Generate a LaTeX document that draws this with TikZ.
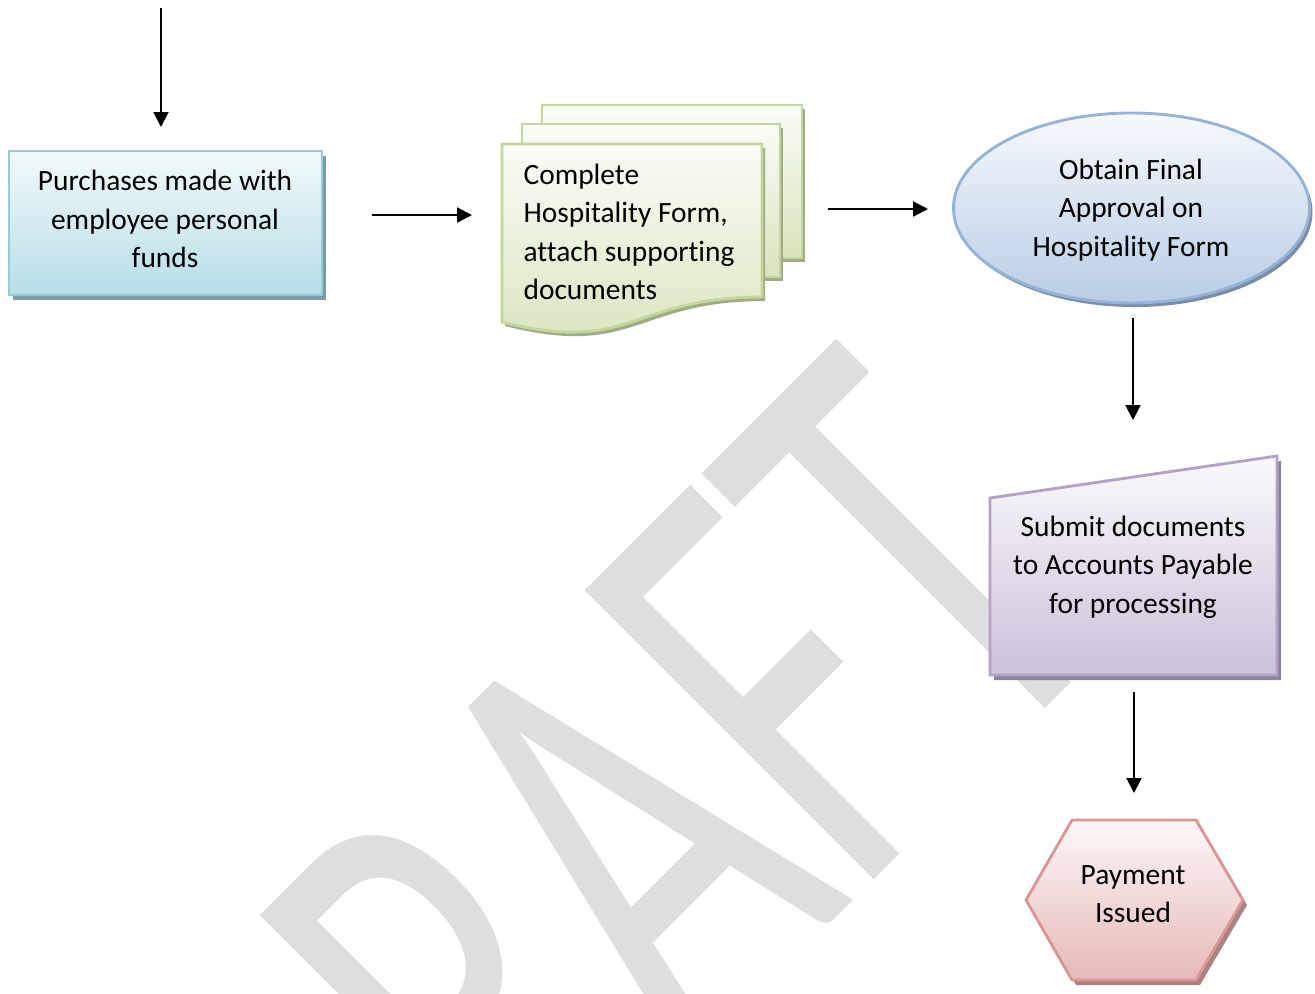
\documentclass[tikz,border=0pt]{standalone}
\usepackage{fontspec}
\setmainfont{Carlito}[Ligatures=NoCommon]
\usetikzlibrary{arrows.meta}
\definecolor{wm}{RGB}{222,222,222}
\definecolor{bBorder}{RGB}{147,205,221}
\definecolor{bTop}{RGB}{242,249,251}
\definecolor{bBot}{RGB}{183,222,232}
\definecolor{bShadow}{RGB}{125,155,165}
\definecolor{gBorder}{RGB}{195,214,155}
\definecolor{gTop}{RGB}{251,252,247}
\definecolor{gBot}{RGB}{215,228,189}
\definecolor{gShadow}{RGB}{160,172,135}
\definecolor{eBorder}{RGB}{149,179,215}
\definecolor{eTop}{RGB}{246,249,253}
\definecolor{eBot}{RGB}{185,205,229}
\definecolor{eShadow}{RGB}{125,140,165}
\definecolor{pBorder}{RGB}{179,162,199}
\definecolor{pTop}{RGB}{250,249,252}
\definecolor{pBot}{RGB}{204,193,218}
\definecolor{pShadow}{RGB}{140,132,155}
\definecolor{rBorder}{RGB}{217,150,148}
\definecolor{rTop}{RGB}{253,247,247}
\definecolor{rBot}{RGB}{230,185,184}
\definecolor{rShadow}{RGB}{170,130,130}
\tikzset{
  arr/.style={line width=0.75pt,-{Triangle[length=5.2pt,width=5.2pt]}},
  lbl/.style={font=\fontsize{10.3}{13.5}\selectfont, align=center, inner sep=0pt, text=black},
  shp/.style={line width=1pt},
}
\begin{document}
\begin{tikzpicture}[x=0.35pt,y=-0.35pt]
\useasboundingbox (0,0) rectangle (1315,993);
\clip (0,0) rectangle (1315,993);
\fill[white] (0,0) rectangle (1315,993);
% watermark
\node[anchor=base east, rotate=45, yscale=1.55, inner sep=0pt, text=wm,
      font=\fontsize{143.9}{150}\selectfont] (wmark) at (1130,624) {DRAFT};
% box 1
\fill[bShadow] (13,156) rectangle (326,300);
\shadedraw[shp, draw=bBorder, top color=bTop, bottom color=bBot] (9,151) rectangle (322,295);
\node[lbl] (purch) at (165,219) {Purchases made with\\employee personal\\funds};
% multidocument
\fill[gShadow] (545,109) rectangle (805,262);
\shadedraw[shp, draw=gBorder, top color=gTop, bottom color=gBot] (542,105) rectangle (802,258);
\fill[gShadow] (525,128) rectangle (783,281);
\shadedraw[shp, draw=gBorder, top color=gTop, bottom color=gBot] (522,124) rectangle (780,277);
\fill[gShadow] (505,148) -- (765,148) -- (765,301) .. controls (635,301) and (635,359) .. (505,326) -- cycle;
\shadedraw[shp, draw=gBorder, top color=gTop, bottom color=gBot] (502,144) -- (762,144) -- (762,297) .. controls (632,297) and (632,355) .. (502,322) -- cycle;
\node[lbl, align=left, anchor=west] (complete) at (523,232) {Complete\\Hospitality Form,\\attach supporting\\documents};
% ellipse
\fill[eShadow] (1134.5,212) ellipse [x radius=178, y radius=95];
\shadedraw[shp, draw=eBorder, top color=eTop, bottom color=eBot] (1131.5,208) ellipse [x radius=178, y radius=95];
\node[lbl] (approve) at (1131,210) {Obtain Final\\Approval on\\Hospitality Form};
% manual input
\fill[pShadow] (994,503) -- (1281,461) -- (1281,680) -- (994,680) -- cycle;
\shadedraw[shp, draw=pBorder, top color=pTop, bottom color=pBot] (990,498) -- (1277,456) -- (1277,675) -- (990,675) -- cycle;
\node[lbl] (submit) at (1133,567) {Submit documents\\to Accounts Payable\\for processing};
% hexagon
\fill[rShadow] (1076,825) -- (1200,825) -- (1247,905) -- (1200,985) -- (1076,985) -- (1030,905) -- cycle;
\shadedraw[shp, draw=rBorder, top color=rTop, bottom color=rBot] (1072,820) -- (1196,820) -- (1243,900) -- (1196,980) -- (1072,980) -- (1026,900) -- cycle;
\node[lbl] (pay) at (1133,894) {Payment\\Issued};
% connectors
\coordinate (a0s) at (161,8);
\coordinate (a0e) at (161,127);
\coordinate (a1s) at (372,215);
\coordinate (a1e) at (472,215);
\coordinate (a2s) at (828,209);
\coordinate (a2e) at (928,209);
\coordinate (a3s) at (1133,318);
\coordinate (a3e) at (1133,420);
\coordinate (a4s) at (1134,692);
\coordinate (a4e) at (1134,793);
\draw[arr] (a0s) -- (a0e);
\draw[arr] (a1s) -- (a1e);
\draw[arr] (a2s) -- (a2e);
\draw[arr] (a3s) -- (a3e);
\draw[arr] (a4s) -- (a4e);
\end{tikzpicture}
\end{document}
